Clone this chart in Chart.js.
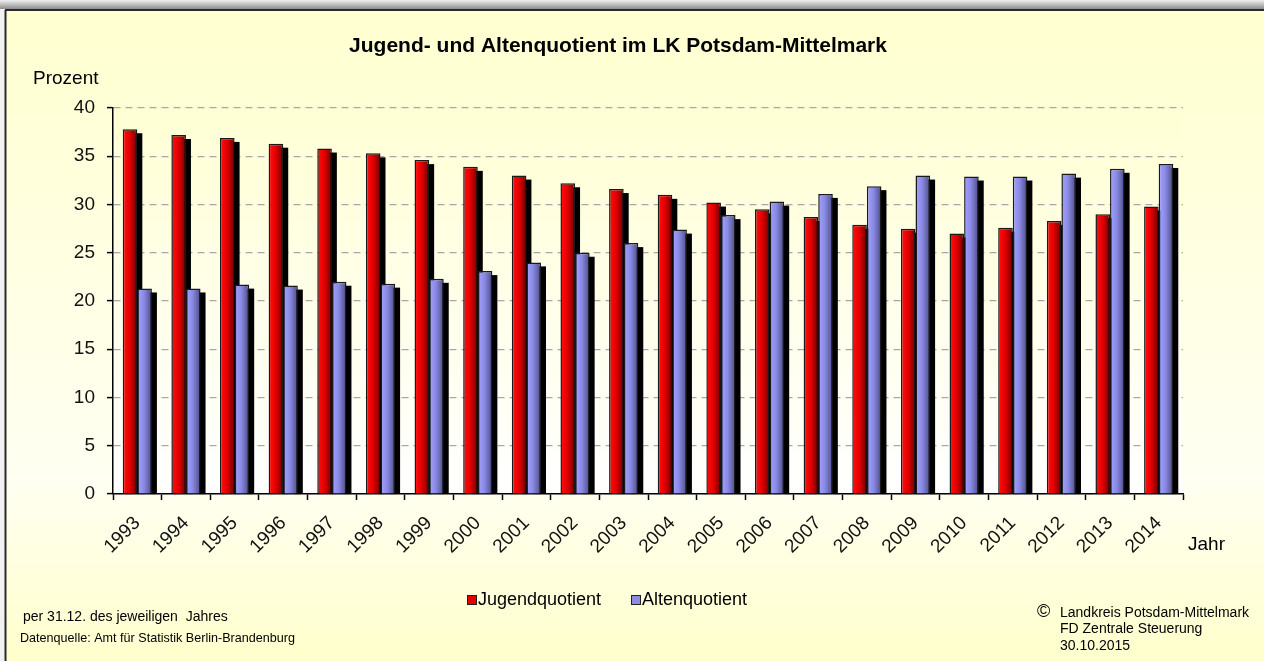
<!DOCTYPE html>
<html>
<head>
<meta charset="utf-8">
<script src="https://cdn.jsdelivr.net/npm/chart.js@4/dist/chart.umd.min.js"></script>
<style>
  html, body { margin: 0; padding: 0; background: #fff; }
  #wrap { width: 1264px; height: 661px; }
</style>
</head>
<body>
<div id="wrap"><canvas id="chart" width="1264" height="661"></canvas></div>
<script>
(function () {
  'use strict';

  // Werte (Prozent)
  var years = ['1993', '1994', '1995', '1996', '1997', '1998', '1999', '2000', '2001', '2002', '2003',
               '2004', '2005', '2006', '2007', '2008', '2009', '2010', '2011', '2012', '2013', '2014'];
  var jugendquotient = [37.8, 37.2, 36.9, 36.3, 35.8, 35.3, 34.6, 33.9, 33.0, 32.2, 31.6,
                        31.0, 30.2, 29.5, 28.7, 27.9, 27.5, 27.0, 27.6, 28.3, 29.0, 29.8];
  var altenquotient = [21.3, 21.3, 21.7, 21.6, 22.0, 21.8, 22.3, 23.1, 24.0, 25.0, 26.0,
                       27.4, 28.9, 30.3, 31.1, 31.9, 33.0, 32.9, 32.9, 33.2, 33.7, 34.2];
  var seriesNames = ['Jugendquotient', 'Altenquotient'];
  var yTicks = [0, 5, 10, 15, 20, 25, 30, 35, 40];

  var FONT = '"Liberation Sans", Arial, sans-serif';
  var gradStops = [
    [[0, '#ff1010'], [0.45, '#e80000'], [1, '#700000']],
    [[0, '#a4a4ff'], [0.45, '#8a8ae6'], [1, '#4c4c84']]
  ];
  var legendColors = ['#e00000', '#8c8ce0'];

  // Rahmen und Hintergrund
  var backdrop = {
    id: 'backdrop',
    beforeDraw: function (chart) {
      var ctx = chart.ctx, W = chart.width, H = chart.height, a = chart.chartArea;
      ctx.save();
      ctx.fillStyle = '#f2f2f2';
      ctx.fillRect(0, 0, W, H);
      var top = ctx.createLinearGradient(0, 0, 0, 9);
      top.addColorStop(0, '#f0f0f0');
      top.addColorStop(1, '#8c8c8c');
      ctx.fillStyle = top;
      ctx.fillRect(0, 0, W, 9);

      var bg = ctx.createLinearGradient(0, 10, 0, H);
      bg.addColorStop(0, '#ffffd0');
      bg.addColorStop(0.72, '#fffff2');
      bg.addColorStop(1, '#ffffcc');
      ctx.fillStyle = bg;
      ctx.fillRect(6, 10, W - 6, H - 10);

      ctx.strokeStyle = '#2a2a2a';
      ctx.lineWidth = 2;
      ctx.beginPath();
      ctx.moveTo(5, 10); ctx.lineTo(W, 10);
      ctx.moveTo(5.5, 10); ctx.lineTo(5.5, H);
      ctx.stroke();

      var pg = ctx.createLinearGradient(0, a.top, 0, a.bottom);
      pg.addColorStop(0, '#ffffd4');
      pg.addColorStop(1, '#ffffff');
      ctx.fillStyle = pg;
      ctx.fillRect(a.left, a.top, a.right - a.left, a.bottom - a.top);
      ctx.restore();
    }
  };

  // Schatten und Farbverlauf der Säulen
  var barLook = {
    id: 'barLook',
    beforeDatasetsDraw: function (chart) {
      var ctx = chart.ctx, a = chart.chartArea;
      ctx.save();
      ctx.beginPath();
      ctx.rect(a.left, a.top, a.right - a.left, a.bottom - a.top);
      ctx.clip();
      ctx.fillStyle = '#000';
      chart.data.datasets.forEach(function (ds, i) {
        chart.getDatasetMeta(i).data.forEach(function (bar) {
          var left = bar.x - bar.width / 2;
          ctx.fillRect(left + 5, bar.y + 4, bar.width, bar.base - bar.y);
          var g = ctx.createLinearGradient(left, 0, left + bar.width, 0);
          gradStops[i].forEach(function (s) { g.addColorStop(s[0], s[1]); });
          bar.options.backgroundColor = g;
        });
      });
      ctx.restore();
    }
  };

  // Titel, Achsentitel, Legende, Fußnoten
  var texts = {
    id: 'texts',
    afterDraw: function (chart) {
      var ctx = chart.ctx;
      ctx.save();
      ctx.fillStyle = '#000';
      ctx.textBaseline = 'middle';

      ctx.textAlign = 'center';
      ctx.font = 'bold 21px ' + FONT;
      ctx.fillText('Jugend- und Altenquotient im LK Potsdam-Mittelmark', 618, 46, 580);

      ctx.textAlign = 'left';
      ctx.font = '19px ' + FONT;
      ctx.fillText('Prozent', 33, 79);
      ctx.fillText('Jahr', 1188, 545);

      // Legende
      var lx = [467, 631];
      ctx.font = '18px ' + FONT;
      seriesNames.forEach(function (name, i) {
        ctx.fillStyle = legendColors[i];
        ctx.fillRect(lx[i], 595, 10, 10);
        ctx.strokeStyle = '#222';
        ctx.lineWidth = 1;
        ctx.strokeRect(lx[i] + 0.5, 595.5, 9, 9);
        ctx.fillStyle = '#000';
        ctx.fillText(name, lx[i] + 11, 600);
      });

      ctx.font = '14px ' + FONT;
      ctx.fillText('per 31.12. des jeweiligen  Jahres', 23, 617, 208);
      ctx.font = '13px ' + FONT;
      ctx.fillText('Datenquelle: Amt für Statistik Berlin-Brandenburg', 20, 638, 275);

      ctx.font = '18px ' + FONT;
      ctx.fillText('\u00A9', 1037, 612);
      ctx.font = '14px ' + FONT;
      ctx.fillText('Landkreis Potsdam-Mittelmark', 1060, 613, 194);
      ctx.fillText('FD Zentrale Steuerung', 1060, 629);
      ctx.fillText('30.10.2015', 1060, 646);
      ctx.restore();
    }
  };

  // scriptable colour -> every bar gets its own options object
  function baseColor(c) { return legendColors[c.datasetIndex]; }

  new Chart(document.getElementById('chart'), {
    type: 'bar',
    data: {
      labels: years,
      datasets: [{
        label: seriesNames[0],
        data: jugendquotient,
        backgroundColor: baseColor,
        borderColor: '#1a1a1a',
        borderWidth: 1.5,
        categoryPercentage: 0.6,
        barPercentage: 1
      }, {
        label: seriesNames[1],
        data: altenquotient,
        backgroundColor: baseColor,
        borderColor: '#1a1a1a',
        borderWidth: 1.5,
        categoryPercentage: 0.6,
        barPercentage: 1
      }]
    },
    options: {
      responsive: false,
      animation: false,
      devicePixelRatio: 1,
      layout: { padding: { left: 0, top: 108, right: 81, bottom: 0 } },
      plugins: {
        legend: { display: false },
        title: { display: false },
        tooltip: { enabled: false }
      },
      scales: {
        x: {
          afterFit: function (s) { s.height = 167; },
          grid: {
            offset: true,
            drawOnChartArea: false,
            drawTicks: true,
            tickLength: 6,
            tickColor: '#000',
            tickWidth: 1.5
          },
          border: { display: true, color: '#000', width: 1.5 },
          ticks: {
            autoSkip: false,
            minRotation: 45,
            maxRotation: 45,
            padding: 12,
            color: '#111',
            font: { family: FONT, size: 19 }
          }
        },
        y: {
          min: 0,
          max: 40,
          afterFit: function (s) { s.width = 113; },
          afterBuildTicks: function (s) {
            s.ticks = yTicks.map(function (v) { return { value: v }; });
          },
          grid: {
            color: '#a8a8a8',
            lineWidth: 1.2,
            drawTicks: true,
            tickLength: 6,
            tickColor: '#000',
            tickWidth: 1.5,
            tickBorderDash: []
          },
          border: { display: true, color: '#000', width: 1.5, dash: [7, 5] },
          ticks: {
            padding: 12,
            color: '#111',
            font: { family: FONT, size: 19 }
          }
        }
      }
    },
    plugins: [backdrop, barLook, texts]
  });
})();
</script>
</body>
</html>
